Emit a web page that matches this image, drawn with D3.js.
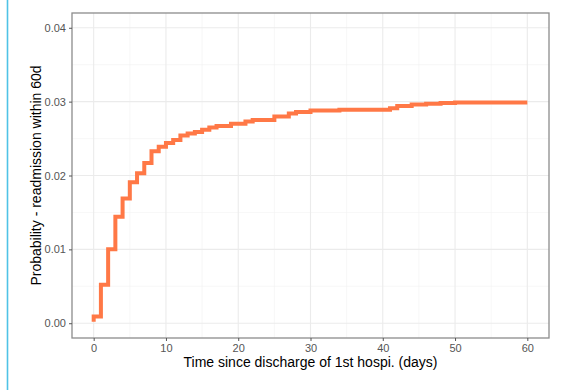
<!DOCTYPE html>
<html><head><meta charset="utf-8">
<script src="https://cdn.jsdelivr.net/npm/d3@7"></script>
<style>body{margin:0;background:#fff;}svg{display:block;font-family:"Liberation Sans",Arial,sans-serif;}</style>
</head><body><svg id="c" width="563" height="390"></svg>
<script>
const times  = [0, 0, 1, 2, 3, 4, 5, 6, 7, 8, 9, 10, 11, 12, 13, 14, 15, 16, 17, 19, 21, 22, 25, 27, 28, 30, 34, 41, 42, 44, 46, 48, 50, 60];
const probs  = [0.0002, 0.0009, 0.0052, 0.0100, 0.0144, 0.0169, 0.0191, 0.0203, 0.0217, 0.0233, 0.0239, 0.0244, 0.0248, 0.0254, 0.0257, 0.0259, 0.0262, 0.0265, 0.0267, 0.0270, 0.0273, 0.0275, 0.0280, 0.0284, 0.0286, 0.0288, 0.0289, 0.0291, 0.0294, 0.0296, 0.0297, 0.0298, 0.0299, 0.0299];
const xTicks = [0, 10, 20, 30, 40, 50, 60];
const yTicks = [0.00, 0.01, 0.02, 0.03, 0.04];
const xMinor = [5, 15, 25, 35, 45, 55];
const yMinor = [0.005, 0.015, 0.025, 0.035];
const xLabel = "Time since discharge of 1st hospi. (days)";
const yLabel = "Probability - readmission within 60d";

const svg = d3.select("#c");
const L = 72, R = 549, T = 13, B = 338;
const x = d3.scaleLinear().domain([-3, 63]).range([L, R]);
const y = d3.scaleLinear().domain([-0.002, 0.042]).range([B, T]);

// left cyan border line
svg.append("line").attr("x1", 7.5).attr("x2", 7.5).attr("y1", 0).attr("y2", 390)
  .attr("stroke", "#4fc3e6").attr("stroke-width", 1.6);

const g = svg.append("g");
// grid
g.selectAll(".xm").data(xMinor).enter().append("line")
  .attr("x1", d => x(d)).attr("x2", d => x(d)).attr("y1", T).attr("y2", B)
  .attr("stroke", "#f2f2f2").attr("stroke-width", 0.6);
g.selectAll(".ym").data(yMinor).enter().append("line")
  .attr("y1", d => y(d)).attr("y2", d => y(d)).attr("x1", L).attr("x2", R)
  .attr("stroke", "#f2f2f2").attr("stroke-width", 0.6);
g.selectAll(".xM").data(xTicks).enter().append("line")
  .attr("x1", d => x(d)).attr("x2", d => x(d)).attr("y1", T).attr("y2", B)
  .attr("stroke", "#ebebeb").attr("stroke-width", 1.1);
g.selectAll(".yM").data(yTicks).enter().append("line")
  .attr("y1", d => y(d)).attr("y2", d => y(d)).attr("x1", L).attr("x2", R)
  .attr("stroke", "#ebebeb").attr("stroke-width", 1.1);

// step line
const pts = times.map((t, i) => [t, probs[i]]);
g.append("path").datum(pts)
  .attr("d", d3.line().x(d => x(d[0])).y(d => y(d[1])).curve(d3.curveStepAfter))
  .attr("fill", "none").attr("stroke", "#ff7846").attr("stroke-width", 4);

// panel border
g.append("rect").attr("x", L).attr("y", T).attr("width", R - L).attr("height", B - T)
  .attr("fill", "none").attr("stroke", "#8c8c8c").attr("stroke-width", 1.3);

// axes
const xa = svg.append("g").attr("transform", `translate(0,${B})`)
  .call(d3.axisBottom(x).tickValues(xTicks).tickSize(3).tickPadding(3).tickFormat(d3.format("d")));
const ya = svg.append("g").attr("transform", `translate(${L},0)`)
  .call(d3.axisLeft(y).tickValues(yTicks).tickSize(3).tickPadding(3).tickFormat(d3.format(".2f")));
[xa, ya].forEach(a => {
  a.select(".domain").remove();
  a.selectAll(".tick line").attr("stroke", "#555");
  a.selectAll(".tick text").attr("fill", "#555").style("font-size", "11px")
    .style("font-family", "'Liberation Sans',Arial,sans-serif");
});

svg.append("text").attr("x", (L + R) / 2).attr("y", 367).attr("text-anchor", "middle")
  .style("font-size", "14px").attr("fill", "#000").text(xLabel);
svg.append("text").attr("transform", `translate(41,${(T + B) / 2}) rotate(-90)`)
  .attr("text-anchor", "middle").style("font-size", "14px").attr("fill", "#000").text(yLabel);
</script></body></html>
